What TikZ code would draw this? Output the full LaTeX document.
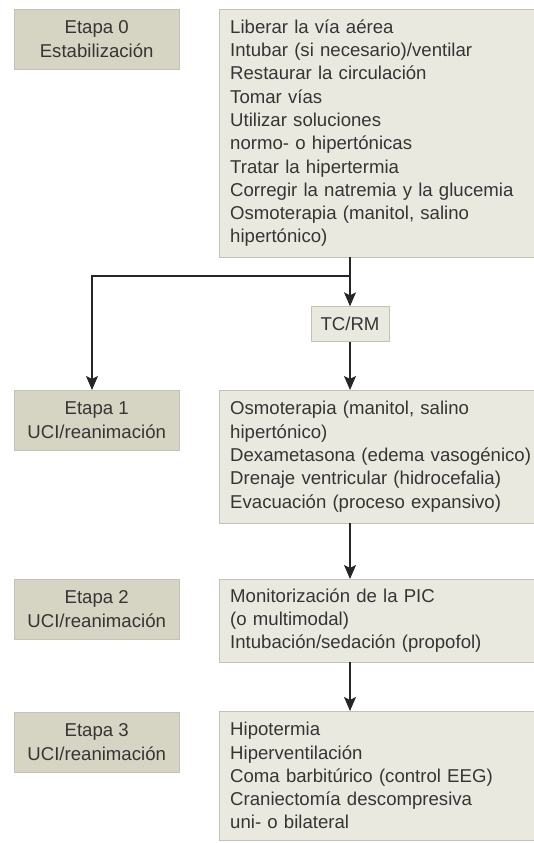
\documentclass[tikz,border=0pt]{standalone}
\usepackage{fontspec}
\setmainfont{Liberation Sans}
\usepackage{tikz}
\usetikzlibrary{arrows.meta,positioning}
\definecolor{etapafill}{HTML}{D6D4C2}
\definecolor{accfill}{HTML}{EAE9E0}
\definecolor{boxline}{HTML}{C4C2B2}
\definecolor{txtgray}{HTML}{353535}

\begin{document}
\begin{tikzpicture}[x=1pt,y=-1pt]
  \useasboundingbox (0,0) rectangle (533,843);
  \tikzstyle{etapa}=[draw=boxline, fill=etapafill, text=txtgray, anchor=north west,
    minimum width=165pt, minimum height=60pt, inner sep=0pt, align=center,
    font=\fontsize{18.6}{23.3}\selectfont]
  \tikzstyle{accion}=[draw=boxline, fill=accfill, text=txtgray, anchor=north west,
    text width=310pt, inner xsep=11pt, align=left,
    font=\fontsize{18.6}{23.3}\selectfont]
  \tikzstyle{flecha}=[draw=black!85, line width=1.2pt,
    -{Stealth[length=14pt,width=12pt,inset=3pt]}]
  % etapas
  \node[etapa] (e0) at (14,9) {Etapa 0\\Estabilización};
  \foreach \n/\y in {1/390,2/579,3/712}{
    \node[etapa] (e\n) at (14,\y) {Etapa \n\\UCI/reanimación};
  }
  % acciones
  \node[accion, minimum height=248pt] (a0) at (219,9) {Liberar la vía aérea\\
    Intubar (si necesario)/ventilar\\Restaurar la circulación\\Tomar vías\\
    Utilizar soluciones\\normo- o hipertónicas\\Tratar la hipertermia\\
    Corregir la natremia y la glucemia\\Osmoterapia (manitol, salino\\hipertónico)};
  \node[accion, minimum height=133pt] (a1) at (219,390) {Osmoterapia (manitol, salino\\
    hipertónico)\\Dexametasona (edema vasogénico)\\Drenaje ventricular (hidrocefalia)\\
    Evacuación (proceso expansivo)};
  \node[accion, minimum height=83pt] (a2) at (219,579) {Monitorización de la PIC\\
    (o multimodal)\\Intubación/sedación (propofol)};
  \node[accion, minimum height=129pt] (a3) at (219,711) {Hipotermia\\Hiperventilación\\
    Coma barbitúrico (control EEG)\\Craniectomía descompresiva\\uni- o bilateral};
  \node[draw=boxline, fill=accfill, text=txtgray, minimum width=78pt, minimum height=35pt,
    inner sep=0pt, font=\fontsize{18.6}{23.3}\selectfont] (tc) at (350,324) {TC/RM};
  % flechas
  \coordinate (split) at (350,276);
  \coordinate (turn) at (92,276);
  \draw[flecha] (tc |- a0.south) -- (split) -- (turn) -- (turn |- e1.north);
  \draw[flecha] (split) -- (tc.north);
  \draw[flecha] (tc.south) -- (tc |- a1.north);
  \draw[flecha] (tc |- a1.south) -- (tc |- a2.north);
  \draw[flecha] (tc |- a2.south) -- (tc |- a3.north);
\end{tikzpicture}
\end{document}
